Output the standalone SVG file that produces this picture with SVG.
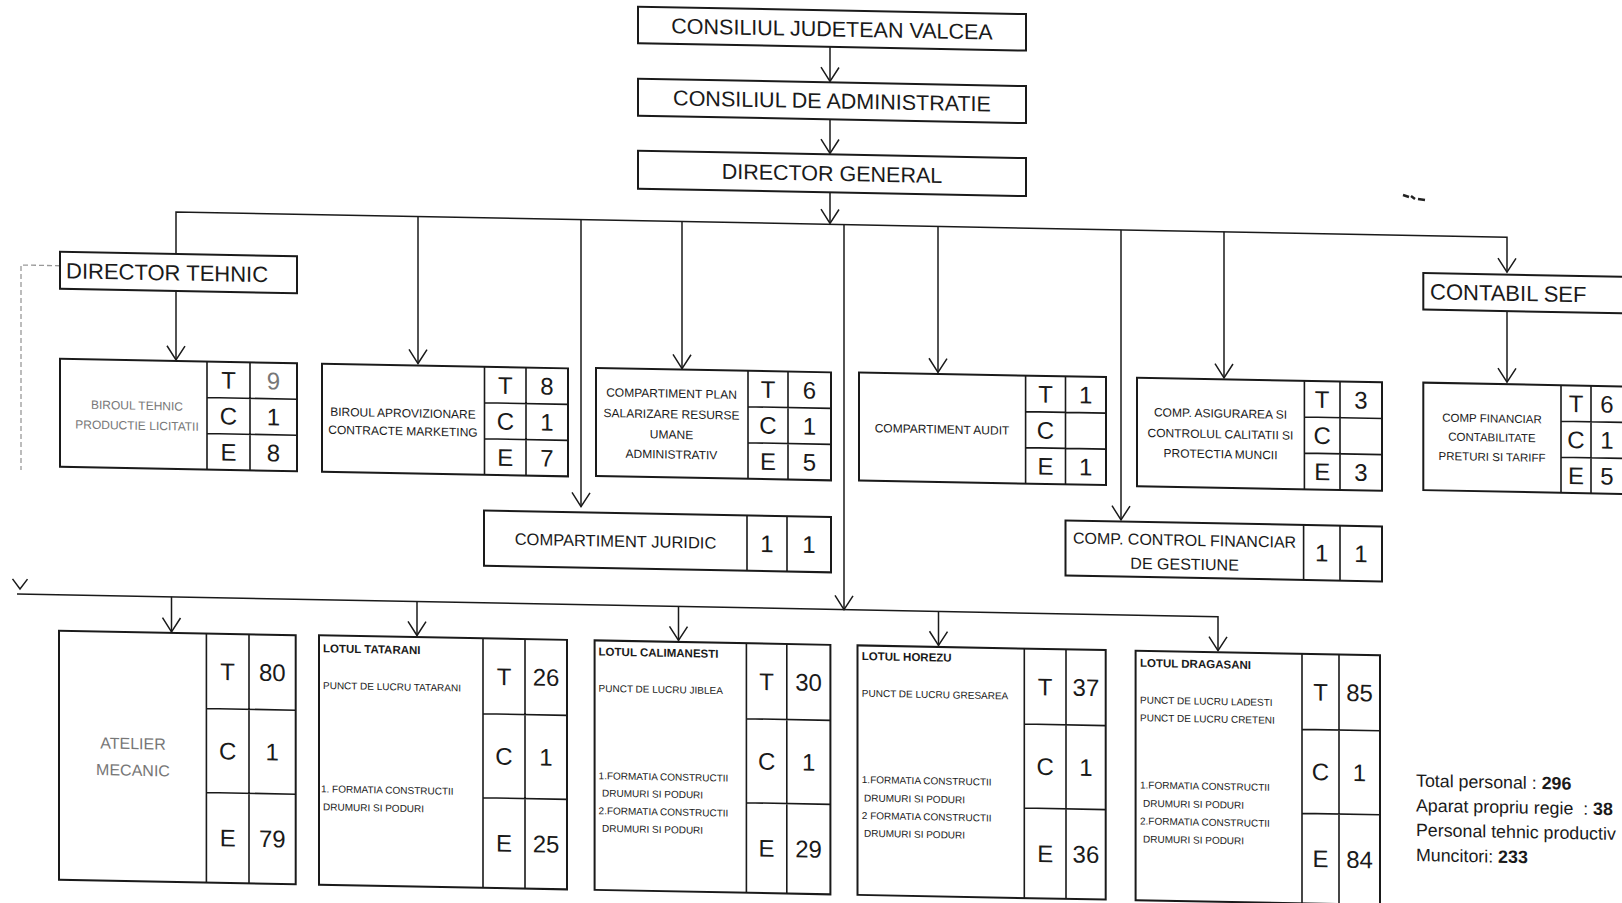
<svg xmlns="http://www.w3.org/2000/svg" width="1622" height="903" viewBox="0 0 1622 903">
<defs>
<marker id="v" markerUnits="userSpaceOnUse" markerWidth="30" markerHeight="30" refX="0" refY="0" orient="auto" overflow="visible">
<path d="M-14,-9 L0,0 L-14,9" fill="none" stroke="#1a1a1a" stroke-width="1.5"/>
</marker>
</defs>
<style>
text{font-family:"Liberation Sans",Arial,sans-serif;fill:#1a1a1a}
.box{fill:#fff;stroke:#1a1a1a;stroke-width:2}
.gl{fill:none;stroke:#1a1a1a;stroke-width:1.6}
.ln{fill:none;stroke:#1a1a1a;stroke-width:1.5}
.arr{marker-end:url(#v)}
.big{font-size:21.5px;text-anchor:middle}
.hd{font-size:22px}
.cell{font-size:24px;text-anchor:middle}
.lbl{font-size:12px;text-anchor:middle}
.mid{font-size:16px;text-anchor:middle}
.lot{font-size:10px}
.lott{font-size:11.5px;font-weight:bold}
.fade{fill:#777}
.tot{font-size:17.8px}
</style>
<rect width="1622" height="903" fill="#fff"/>
<path d="M1403,195 l6,2 M1411,196 l4,3 M1418,199 l7,1" stroke="#222" stroke-width="2.5" fill="none"/>
<g transform="matrix(1 0.019 0 1 0 -15.41)">
<g id="connectors">
<path class="ln arr" d="M830,46.5 V81"/>
<path class="ln arr" d="M830,119 V153"/>
<path class="ln arr" d="M830,192 V223"/>
<path class="ln arr" d="M176,265 V224 H1507 V259"/>
<path class="ln arr" d="M418,224 V371"/>
<path class="ln arr" d="M581,224 V511"/>
<path class="ln arr" d="M682,224 V371"/>
<path class="ln arr" d="M844,224 V609"/>
<path class="ln arr" d="M938,224 V370"/>
<path class="ln arr" d="M1121,224 V514"/>
<path class="ln arr" d="M1224,224 V370"/>
<path class="ln arr" d="M176,303 V372"/>
<path class="ln arr" d="M1507,298 V369"/>
<path d="M60,280 H21 V485" fill="none" stroke="#999" stroke-width="1.3" stroke-dasharray="5,3"/>
<path class="ln" d="M12.5,594 L20,604 L27.5,594"/>
<path class="ln arr" d="M17,609 H1218 V643"/>
<path class="ln arr" d="M171.5,609 V644"/>
<path class="ln arr" d="M417,609 V643"/>
<path class="ln arr" d="M678.5,609 V643"/>
<path class="ln arr" d="M938.5,609 V643"/>
</g>
<g id="consiliul-judetean">
<rect class="box" x="638" y="10" width="388" height="36.5"/>
<text class="big" x="832" y="36">CONSILIUL JUDETEAN VALCEA</text>
</g>
<g id="consiliul-administratie">
<rect class="box" x="638" y="82" width="388" height="37"/>
<text class="big" x="832" y="108">CONSILIUL DE ADMINISTRATIE</text>
</g>
<g id="director-general">
<rect class="box" x="638" y="154" width="388" height="38"/>
<text class="big" x="832" y="180.5">DIRECTOR GENERAL</text>
</g>
<g id="director-tehnic">
<rect class="box" x="60" y="266" width="237" height="37"/>
<text class="hd" x="66" y="292.5">DIRECTOR TEHNIC</text>
</g>
<g id="contabil-sef">
<rect class="box" x="1423.3" y="261.4" width="230" height="36.5"/>
<text class="hd" x="1430" y="287.5">CONTABIL SEF</text>
</g>
<g id="biroul-tehnic">
<rect class="box" x="60" y="373" width="237" height="108"/>
<path class="gl" d="M207,373 V481 M250,373 V481 M207,409 H297 M207,445 H297"/>
<text class="lbl fade" x="137" y="422.5">BIROUL TEHNIC</text>
<text class="lbl fade" x="137" y="442.5">PRODUCTIE LICITATII</text>
<text class="cell" x="228.5" y="399.6">T</text><text class="cell fade" x="273.5" y="399.6">9</text>
<text class="cell" x="228.5" y="435.6">C</text><text class="cell" x="273.5" y="435.6">1</text>
<text class="cell" x="228.5" y="471.6">E</text><text class="cell" x="273.5" y="471.6">8</text>
</g>
<g id="biroul-aprovizionare">
<rect class="box" x="322" y="373" width="246" height="108"/>
<path class="gl" d="M484.5,373 V481 M526,373 V481 M484.5,409 H568 M484.5,445 H568"/>
<text class="lbl" x="403" y="425">BIROUL APROVIZIONARE</text>
<text class="lbl" x="403" y="443">CONTRACTE MARKETING</text>
<text class="cell" x="505.3" y="399.6">T</text><text class="cell" x="547" y="399.6">8</text>
<text class="cell" x="505.3" y="435.6">C</text><text class="cell" x="547" y="435.6">1</text>
<text class="cell" x="505.3" y="471.6">E</text><text class="cell" x="547" y="471.6">7</text>
</g>
<g id="compartiment-plan">
<rect class="box" x="596" y="372" width="235" height="108"/>
<path class="gl" d="M748,372 V480 M788,372 V480 M748,408 H831 M748,444 H831"/>
<text class="lbl" x="671.5" y="400.3">COMPARTIMENT PLAN</text>
<text class="lbl" x="671.5" y="421">SALARIZARE RESURSE</text>
<text class="lbl" x="671.5" y="441.3">UMANE</text>
<text class="lbl" x="671.5" y="461.3">ADMINISTRATIV</text>
<text class="cell" x="768" y="398.6">T</text><text class="cell" x="809.5" y="398.6">6</text>
<text class="cell" x="768" y="434.6">C</text><text class="cell" x="809.5" y="434.6">1</text>
<text class="cell" x="768" y="470.6">E</text><text class="cell" x="809.5" y="470.6">5</text>
</g>
<g id="compartiment-juridic">
<rect class="box" x="484" y="516.7" width="347" height="55.3"/>
<path class="gl" d="M747,516.7 V572 M787,516.7 V572"/>
<text x="615.5" y="550.5" style="font-size:16.5px;text-anchor:middle">COMPARTIMENT JURIDIC</text>
<text class="cell" x="767" y="552.9">1</text><text class="cell" x="809" y="552.9">1</text>
</g>
<g id="compartiment-audit">
<rect class="box" x="859" y="371.5" width="247" height="108"/>
<path class="gl" d="M1025.6,371.5 V479.5 M1065.5,371.5 V479.5 M1025.6,407.5 H1106 M1025.6,443.5 H1106"/>
<text class="lbl" x="942" y="431">COMPARTIMENT AUDIT</text>
<text class="cell" x="1045.5" y="398.1">T</text><text class="cell" x="1085.8" y="398.1">1</text>
<text class="cell" x="1045.5" y="434.1">C</text>
<text class="cell" x="1045.5" y="470.1">E</text><text class="cell" x="1085.8" y="470.1">1</text>
</g>
<g id="comp-asigurarea">
<rect class="box" x="1137" y="371.5" width="245" height="108.5"/>
<path class="gl" d="M1304.4,371.5 V480 M1340,371.5 V480 M1304.4,407.7 H1382 M1304.4,443.8 H1382"/>
<text class="lbl" x="1220.5" y="409.8">COMP. ASIGURAREA SI</text>
<text class="lbl" x="1220.5" y="430.5">CONTROLUL CALITATII SI</text>
<text class="lbl" x="1220.5" y="450.5">PROTECTIA MUNCII</text>
<text class="cell" x="1322.2" y="398.2">T</text><text class="cell" x="1361" y="398.2">3</text>
<text class="cell" x="1322.2" y="434.3">C</text>
<text class="cell" x="1322.2" y="470.4">E</text><text class="cell" x="1361" y="470.4">3</text>
</g>
<g id="comp-control-financiar">
<rect class="box" x="1065.5" y="515.6" width="316.5" height="55"/>
<path class="gl" d="M1303.6,515.6 V570.6 M1340,515.6 V570.6"/>
<text x="1184.6" y="538.6" style="font-size:16px;text-anchor:middle">COMP. CONTROL FINANCIAR</text>
<text x="1184.6" y="562.6" style="font-size:16px;text-anchor:middle">DE GESTIUNE</text>
<text class="cell" x="1321.8" y="551.7">1</text><text class="cell" x="1361" y="551.7">1</text>
</g>
<g id="comp-financiar">
<rect class="box" x="1423.3" y="371" width="201" height="107.5"/>
<path class="gl" d="M1561,371 V478.5 M1591,371 V478.5 M1561,407 H1624 M1561,443 H1624"/>
<text class="lbl" x="1492" y="409.5" style="font-size:11.5px">COMP FINANCIAR</text>
<text class="lbl" x="1492" y="428.5" style="font-size:11.5px">CONTABILITATE</text>
<text class="lbl" x="1492" y="448" style="font-size:11.5px">PRETURI SI TARIFF</text>
<text class="cell" x="1576" y="397.6">T</text><text class="cell" x="1607" y="397.6">6</text>
<text class="cell" x="1576" y="433.6">C</text><text class="cell" x="1607" y="433.6">1</text>
<text class="cell" x="1576" y="469.6">E</text><text class="cell" x="1607" y="469.6">5</text>
</g>
<g id="atelier-mecanic">
<rect class="box" x="59" y="645" width="236.7" height="249"/>
<path class="gl" d="M206.4,645 V894 M249,645 V894 M206.4,720 H295.7 M206.4,804 H295.7"/>
<text class="mid fade" x="133" y="762">ATELIER</text>
<text class="mid fade" x="133" y="788.7">MECANIC</text>
<text class="cell" x="227.7" y="691.2">T</text><text class="cell" x="272.3" y="691.2">80</text>
<text class="cell" x="227.7" y="770.6">C</text><text class="cell" x="272.3" y="770.6">1</text>
<text class="cell" x="227.7" y="857.6">E</text><text class="cell" x="272.3" y="857.6">79</text>
</g>
<g id="lotul-tatarani">
<rect class="box" x="319" y="644.5" width="248" height="249.5"/>
<path class="gl" d="M483,644.5 V894 M525,644.5 V894 M483,720 H567 M483,804 H567"/>
<text class="lott" x="323" y="661.6">LOTUL TATARANI</text>
<text class="lot" x="323" y="698.2">PUNCT DE LUCRU TATARANI</text>
<text class="lot" x="321" y="801.6">1. FORMATIA CONSTRUCTII</text>
<text class="lot" x="323" y="819.6">DRUMURI SI PODURI</text>
<text class="cell" x="504" y="690.9">T</text><text class="cell" x="546" y="690.9">26</text>
<text class="cell" x="504" y="770.6">C</text><text class="cell" x="546" y="770.6">1</text>
<text class="cell" x="504" y="857.6">E</text><text class="cell" x="546" y="857.6">25</text>
</g>
<g id="lotul-calimanesti">
<rect class="box" x="594.6" y="644.5" width="235.8" height="249.5"/>
<path class="gl" d="M746.4,644.5 V894 M786.8,644.5 V894 M746.4,720 H830.4 M746.4,804 H830.4"/>
<text class="lott" x="598.6" y="659.6">LOTUL CALIMANESTI</text>
<text class="lot" x="598.6" y="695.8">PUNCT DE LUCRU JIBLEA</text>
<text class="lot" x="598.6" y="783.2">1.FORMATIA CONSTRUCTII</text>
<text class="lot" x="602" y="800.5">DRUMURI SI PODURI</text>
<text class="lot" x="598.6" y="818.2">2.FORMATIA CONSTRUCTII</text>
<text class="lot" x="602" y="835.8">DRUMURI SI PODURI</text>
<text class="cell" x="766.6" y="690.9">T</text><text class="cell" x="808.6" y="690.9">30</text>
<text class="cell" x="766.6" y="770.6">C</text><text class="cell" x="808.6" y="770.6">1</text>
<text class="cell" x="766.6" y="857.6">E</text><text class="cell" x="808.6" y="857.6">29</text>
</g>
<g id="lotul-horezu">
<rect class="box" x="857.5" y="644.5" width="248.2" height="249.5"/>
<path class="gl" d="M1024.3,644.5 V894 M1066,644.5 V894 M1024.3,720 H1105.7 M1024.3,804 H1105.7"/>
<text class="lott" x="861.8" y="659.1">LOTUL HOREZU</text>
<text class="lot" x="861.8" y="695.7">PUNCT DE LUCRU GRESAREA</text>
<text class="lot" x="861.8" y="782.1">1.FORMATIA CONSTRUCTII</text>
<text class="lot" x="864" y="800.4">DRUMURI SI PODURI</text>
<text class="lot" x="861.8" y="818.1">2 FORMATIA CONSTRUCTII</text>
<text class="lot" x="864" y="835.7">DRUMURI SI PODURI</text>
<text class="cell" x="1045.2" y="690.9">T</text><text class="cell" x="1085.9" y="690.9">37</text>
<text class="cell" x="1045.2" y="770.6">C</text><text class="cell" x="1085.9" y="770.6">1</text>
<text class="cell" x="1045.2" y="857.6">E</text><text class="cell" x="1085.9" y="857.6">36</text>
</g>
<g id="lotul-dragasani">
<rect class="box" x="1135.6" y="644.5" width="244.4" height="249.5"/>
<path class="gl" d="M1302,644.5 V894 M1339,644.5 V894 M1302,720 H1380 M1302,804 H1380"/>
<text class="lott" x="1140" y="660.6">LOTUL DRAGASANI</text>
<text class="lot" x="1140" y="697.2">PUNCT DE LUCRU LADESTI</text>
<text class="lot" x="1140" y="714.9">PUNCT DE LUCRU CRETENI</text>
<text class="lot" x="1140" y="782.2">1.FORMATIA CONSTRUCTII</text>
<text class="lot" x="1143" y="800.5">DRUMURI SI PODURI</text>
<text class="lot" x="1140" y="818.2">2.FORMATIA CONSTRUCTII</text>
<text class="lot" x="1143" y="836.2">DRUMURI SI PODURI</text>
<text class="cell" x="1320.5" y="690.9">T</text><text class="cell" x="1359.5" y="690.9">85</text>
<text class="cell" x="1320.5" y="770.6">C</text><text class="cell" x="1359.5" y="770.6">1</text>
<text class="cell" x="1320.5" y="857.6">E</text><text class="cell" x="1359.5" y="857.6">84</text>
</g>
<g id="totals">
<text class="tot" x="1416" y="775.2">Total personal : <tspan font-weight="bold">296</tspan></text>
<text class="tot" x="1416" y="800" xml:space="preserve">Aparat propriu regie  : <tspan font-weight="bold">38</tspan></text>
<text class="tot" x="1416" y="824.6">Personal tehnic productiv</text>
<text class="tot" x="1416" y="849.6">Muncitori: <tspan font-weight="bold">233</tspan></text>
</g>
</g>
</svg>
